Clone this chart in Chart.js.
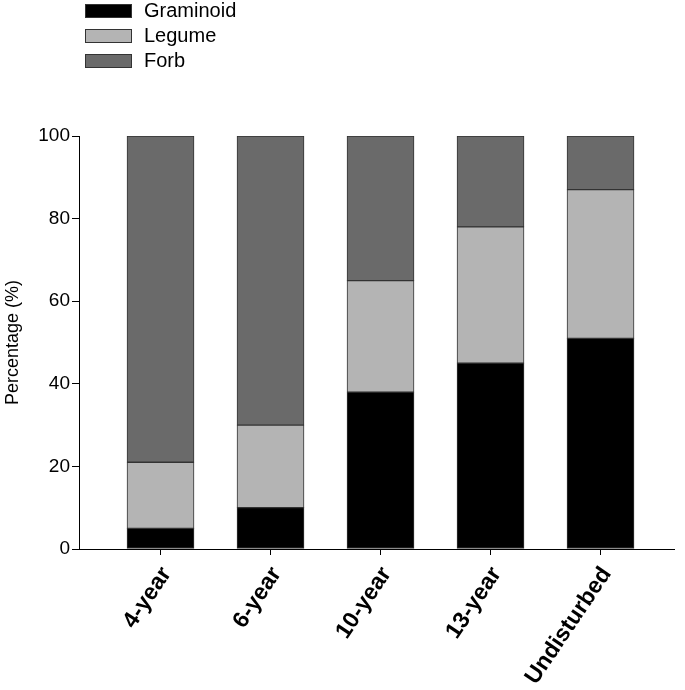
<!DOCTYPE html>
<html>
<head>
<meta charset="utf-8">
<script src="https://cdn.jsdelivr.net/npm/chart.js@4.4.0/dist/chart.umd.min.js"></script>
<style>
  html, body { margin: 0; padding: 0; background: #fff; }
  #wrap { position: relative; width: 685px; height: 690px; overflow: hidden; }
  #legend { position: absolute; left: 85px; top: -2px; font: 20px "Liberation Sans", Arial, sans-serif; color: #000; }
  #legend .item { height: 25px; display: flex; align-items: center; }
  #legend .box { width: 45px; height: 12px; border: 1px solid #333; margin-right: 12px; }
</style>
</head>
<body>
<div id="wrap">
  <canvas id="chart" width="685" height="690"></canvas>
  <div id="legend"></div>
</div>
<script>
const labels = ['4-year', '6-year', '10-year', '13-year', 'Undisturbed'];
const graminoid = [5, 10, 38, 45, 51];
const legume = [16, 20, 27, 33, 36];
const forb = [79, 70, 35, 22, 13];
const yTicks = [0, 20, 40, 60, 80, 100];

const toPoints = (arr) => arr.map((v, i) => ({ x: i, y: v }));

const fontName = '"Liberation Sans", Arial, sans-serif';

const datasets = [
  { label: 'Graminoid', data: toPoints(graminoid), backgroundColor: '#000000' },
  { label: 'Legume', data: toPoints(legume), backgroundColor: '#b4b4b4' },
  { label: 'Forb', data: toPoints(forb), backgroundColor: '#6a6a6a' }
].map(d => Object.assign(d, { borderColor: '#333333', borderWidth: 1, barThickness: 67, borderSkipped: false }));

const ctx = document.getElementById('chart').getContext('2d');
const chart = new Chart(ctx, {
  type: 'bar',
  data: { datasets: datasets },
  options: {
    responsive: false,
    animation: false,
    layout: { padding: { top: 136, right: 11, left: 0, bottom: 0 } },
    plugins: { legend: { display: false }, tooltip: { enabled: false } },
    scales: {
      x: {
        type: 'linear',
        stacked: true,
        offset: false,
        min: -0.741,
        max: 4.668,
        afterBuildTicks: (s) => { s.ticks = labels.map((_, i) => ({ value: i })); },
        afterFit: (s) => { s.height = 141; },
        grid: { display: true, offset: false, drawOnChartArea: false, drawTicks: true, tickLength: 6, color: '#000' },
        border: { display: true, color: '#000', width: 1 },
        ticks: {
          autoSkip: false,
          minRotation: 56,
          maxRotation: 56,
          padding: 7,
          labelOffset: 6,
          color: '#000',
          font: { family: fontName, size: 23, weight: 'bold' },
          callback: (v) => labels[v]
        }
      },
      y: {
        stacked: true,
        min: 0,
        max: 100,
        afterBuildTicks: (s) => { s.ticks = yTicks.map(v => ({ value: v })); },
        afterFit: (s) => { s.width = 79; },
        grid: { display: true, drawOnChartArea: false, drawTicks: true, tickLength: 7, color: '#000' },
        border: { display: true, color: '#000', width: 1 },
        ticks: {
          padding: 2,
          color: '#000',
          font: { family: fontName, size: 19 }
        },
        title: {
          display: true,
          text: 'Percentage (%)',
          color: '#000',
          padding: { top: 2, bottom: 0 },
          font: { family: fontName, size: 18 }
        }
      }
    }
  }
});

// legend built from the chart's datasets
const legendEl = document.getElementById('legend');
chart.data.datasets.forEach(d => {
  const item = document.createElement('div');
  item.className = 'item';
  item.innerHTML = `<span class="box" style="background:${d.backgroundColor}"></span><span>${d.label}</span>`;
  legendEl.appendChild(item);
});
</script>
</body>
</html>
